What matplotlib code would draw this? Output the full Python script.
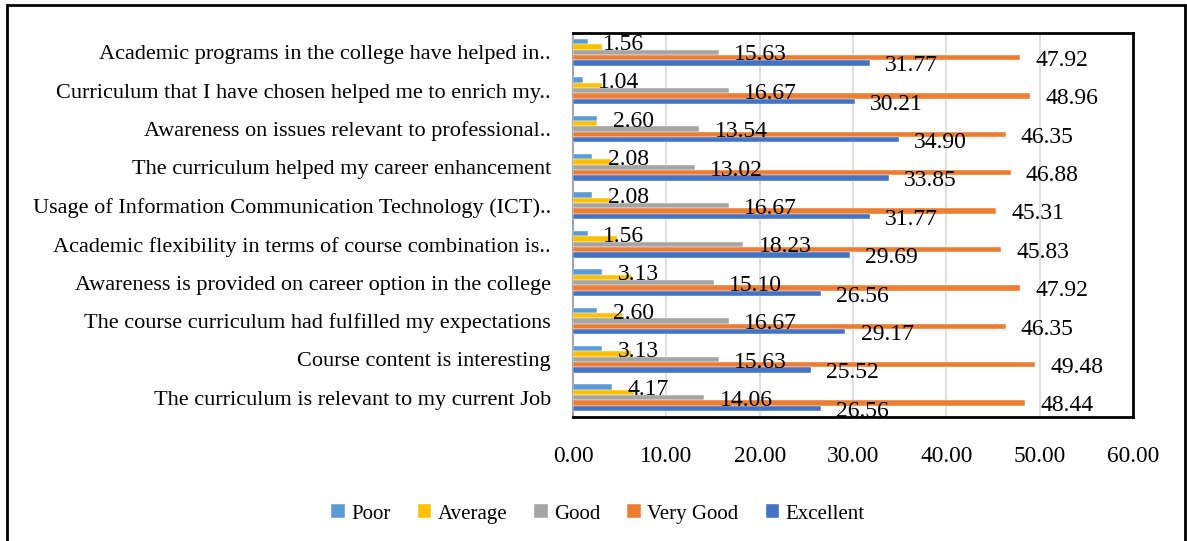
import matplotlib
matplotlib.use("Agg")
import matplotlib.pyplot as plt
from matplotlib.patches import Rectangle
import numpy as np

plt.rcParams['font.family'] = ['Liberation Serif', 'DejaVu Serif']

# categories listed top to bottom as in the chart
categories = [
    "Academic programs in the college have helped in..",
    "Curriculum that I have chosen helped me to enrich my..",
    "Awareness on issues relevant to professional..",
    "The curriculum helped my career enhancement",
    "Usage of Information Communication Technology (ICT)..",
    "Academic flexibility in terms of course combination is..",
    "Awareness is provided on career option in the college",
    "The course curriculum had fulfilled my expectations",
    "Course content is interesting",
    "The curriculum is relevant to my current Job",
]
poor = [1.56, 1.04, 2.60, 2.08, 2.08, 1.56, 3.13, 2.60, 3.13, 4.17]
average = [3.1, 3.1, 2.6, 4.1, 4.1, 4.7, 6.3, 5.2, 6.2, 6.5]
good = [15.63, 16.67, 13.54, 13.02, 16.67, 18.23, 15.10, 16.67, 15.63, 14.06]
very_good = [47.92, 48.96, 46.35, 46.88, 45.31, 45.83, 47.92, 46.35, 49.48, 48.44]
excellent = [31.77, 30.21, 34.90, 33.85, 31.77, 29.69, 26.56, 29.17, 25.52, 26.56]

series_names = ["Poor", "Average", "Good", "Very Good", "Excellent"]
series_vals = [poor, average, good, very_good, excellent]
colors = ["#5B9BD5", "#FFC000", "#A5A5A5", "#ED7D31", "#4472C4"]
show_labels = [True, False, True, True, True]

fig = plt.figure(figsize=(11.87, 5.41), dpi=100)
ax = fig.add_axes([573 / 1187, 1 - 417 / 541, 560 / 1187, 384 / 541])

n = len(categories)
ypos = np.arange(n)[::-1]  # first category at top
bar_h = 0.14
offsets = [2 * bar_h, bar_h, 0, -bar_h, -2 * bar_h]

for name, vals, col, off, lab in zip(series_names, series_vals, colors, offsets, show_labels):
    ax.barh(ypos + off, vals, height=bar_h, color=col, edgecolor='white',
            linewidth=0.3, label=name, zorder=3)
    if lab:
        for y, v in zip(ypos + off, vals):
            t = ax.annotate(f"{v:.2f}", xy=(v, y), xytext=(11, -2),
                            textcoords='offset points', ha='left', va='center',
                            fontsize=17, color='black', zorder=5,
                            annotation_clip=False)
            t.set_clip_on(True)

ax.set_xlim(0, 60)
ax.set_ylim(-0.5, n - 0.5)
ax.set_xticks(np.arange(0, 61, 10))
ax.set_xticklabels([f"{v:.2f}" for v in np.arange(0, 61, 10)], fontsize=16.8)
ax.set_yticks(ypos)
ax.set_yticklabels(categories, fontsize=16)
ax.tick_params(axis='both', length=0)
ax.tick_params(axis='x', pad=21)
ax.tick_params(axis='y', pad=16)
ax.grid(axis='x', color='#D9D9D9', linewidth=1.2, zorder=0)
ax.set_axisbelow(True)

for s in ['top', 'right', 'bottom']:
    ax.spines[s].set_color('black')
    ax.spines[s].set_linewidth(2)
ax.spines['left'].set_color('#A6A6A6')
ax.spines['left'].set_linewidth(1.5)

fig.legend(loc='center', bbox_to_anchor=(598 / 1187, 1 - 514 / 541), ncol=5,
           frameon=False, fontsize=15, handlelength=0.65, handleheight=0.65,
           handletextpad=0.3, columnspacing=1.3)

fig.patches.append(Rectangle((7 / 1187, -0.05), 1178 / 1187, 1.05 - 5 / 541,
                             transform=fig.transFigure, fill=False,
                             edgecolor='black', linewidth=2))

fig.savefig("out.png", dpi=100)
